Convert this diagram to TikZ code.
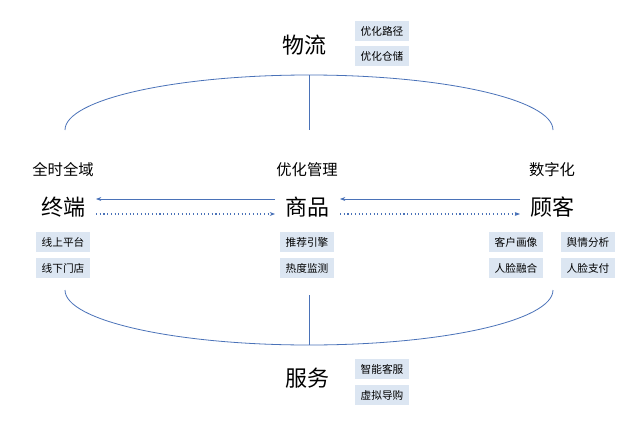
\documentclass[tikz,border=0pt]{standalone}
\usepackage{fontspec}
\setmainfont{Noto Sans CJK SC}
\usetikzlibrary{arrows.meta}
\definecolor{tagbg}{HTML}{DCE6F2}
\definecolor{arr}{HTML}{4A72B8}
\definecolor{ln}{HTML}{4A72B8}
\begin{document}
\begin{tikzpicture}[x=0.75pt,y=-0.75pt,
  tag/.style={fill=tagbg,inner sep=0pt,minimum width=41pt,minimum height=15pt,font=\fontsize{8}{9}\selectfont},
  big/.style={font=\fontsize{16.5}{18}\selectfont,inner sep=1pt},
  mid/.style={font=\fontsize{11.5}{13}\selectfont,inner sep=1pt},
  solidarr/.style={arr,-{Stealth[length=4pt,width=3pt]},line width=0.5pt},
  dotarr/.style={arr,dotted,-{Stealth[length=4pt,width=3pt]},line width=0.8pt}]
\useasboundingbox (0,0) rectangle (640,425);
\draw[ln,line width=0.6pt] (65,130) arc[start angle=180,end angle=360,x radius=244,y radius=55];
\draw[ln,line width=0.6pt] (65,290) arc[start angle=180,end angle=0,x radius=244,y radius=55];
\coordinate (tt) at (309,75); \coordinate (tb) at (309,130);
\coordinate (bt) at (309,295); \coordinate (bb) at (309,345);
\draw[ln,line width=0.6pt] (tt) -- (tb);
\draw[ln,line width=0.6pt] (bt) -- (bb);
\node[big] (wl) at (304,45) {物流};
\node[tag] (t1) at (382,31) {优化路径};
\node[tag] (t2) at (382,56) {优化仓储};
\node[mid] (s1) at (63,170) {全时全域};
\node[mid] (s2) at (307,170) {优化管理};
\node[mid] (s3) at (552,170) {数字化};
\node[big] (zd) at (63,207) {终端};
\node[big] (sp) at (307,207) {商品};
\node[big] (gk) at (552,207) {顾客};
\draw[solidarr] (275,199) -- (96,199);
\draw[solidarr] (520,199) -- (340,199);
\draw[dotarr] (96,214) -- (275,214);
\draw[dotarr] (340,214) -- (520,214);
\node[tag] (a1) at (63,242) {线上平台};
\node[tag] (a2) at (63,268) {线下门店};
\node[tag] (b1) at (307,242) {推荐引擎};
\node[tag] (b2) at (307,268) {热度监测};
\node[tag] (c1) at (516,242) {客户画像};
\node[tag] (c2) at (588,242) {舆情分析};
\node[tag] (c3) at (516,268) {人脸融合};
\node[tag] (c4) at (588,268) {人脸支付};
\node[big] (fw) at (307,378) {服务};
\node[tag] (d1) at (382,369) {智能客服};
\node[tag] (d2) at (382,395) {虚拟导购};
\end{tikzpicture}
\end{document}
